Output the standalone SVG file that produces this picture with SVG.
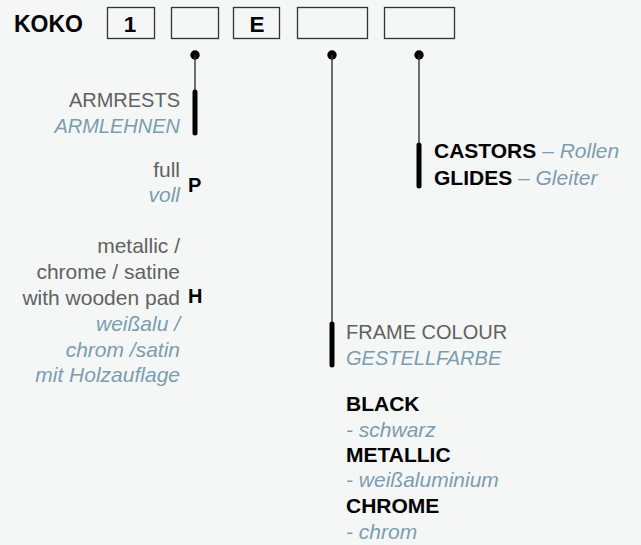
<svg xmlns="http://www.w3.org/2000/svg" width="641" height="545" viewBox="0 0 641 545">
<style>
.t{font-family:"Liberation Sans",Arial,sans-serif;font-size:21px}
.c{font-size:20px}
.g{fill:#616161}
.b{fill:#7b9db0;font-style:italic}
.k{fill:#000;font-weight:bold}
.m{font-size:20px}
.d{font-size:22.5px}
.box{fill:#f5f7f7;stroke:#333;stroke-width:1.3}
.thin{stroke:#333;stroke-width:1.4;fill:none}
.bar{stroke:#000;stroke-width:5;stroke-linecap:round;fill:none}
.dot{fill:#000}
</style>
<rect width="641" height="545" fill="#f5f7f7"/>
<g id="title"><text class="t k" x="14" y="32" style="font-size:23px">KOKO</text></g>
<g id="box1"><rect class="box" x="107.5" y="7.5" width="47" height="31"/><text class="t k d" x="130" y="32.3" text-anchor="middle">1</text></g>
<g id="box2"><rect class="box" x="171.5" y="7.5" width="47" height="31"/></g>
<g id="box3"><rect class="box" x="233.5" y="7.5" width="46" height="31"/><text class="t k d" x="257" y="32.3" text-anchor="middle">E</text></g>
<g id="box4"><rect class="box" x="297.5" y="7.5" width="70" height="31"/></g>
<g id="box5"><rect class="box" x="384.5" y="7.5" width="70" height="31"/></g>
<g id="connectors">
<circle class="dot" cx="195" cy="55" r="4.7"/>
<line class="thin" x1="195" y1="55" x2="195" y2="92"/>
<line class="bar" x1="195" y1="92" x2="195" y2="133"/>
<circle class="dot" cx="332" cy="55" r="4.7"/>
<line class="thin" x1="332" y1="55" x2="332" y2="324"/>
<line class="bar" x1="332" y1="324" x2="332" y2="365"/>
<circle class="dot" cx="419" cy="55" r="4.7"/>
<line class="thin" x1="419" y1="55" x2="419" y2="145"/>
<line class="bar" x1="419" y1="145" x2="419" y2="186"/>
</g>
<g id="armrests">
<text class="t c g" x="180" y="107" text-anchor="end">ARMRESTS</text>
<text class="t c b" x="180" y="133" text-anchor="end">ARMLEHNEN</text>
</g>
<g id="option-p">
<text class="t g" x="180" y="177" text-anchor="end">full</text>
<text class="t b" x="180" y="202" text-anchor="end">voll</text>
<text class="t k m" x="188" y="192.3">P</text>
</g>
<g id="option-h">
<text class="t g" x="180" y="253" text-anchor="end">metallic /</text>
<text class="t g" x="180" y="279" text-anchor="end">chrome / satine</text>
<text class="t g" x="180" y="305" text-anchor="end">with wooden pad</text>
<text class="t b" x="180" y="331" text-anchor="end">weißalu /</text>
<text class="t b" x="180" y="357" text-anchor="end">chrom /satin</text>
<text class="t b" x="180" y="382" text-anchor="end">mit Holzauflage</text>
<text class="t k m" x="188" y="302.7">H</text>
</g>
<g id="castors">
<text class="t" x="434" y="158"><tspan class="k">CASTORS</tspan><tspan class="b"> – Rollen</tspan></text>
<text class="t" x="434" y="185"><tspan class="k">GLIDES</tspan><tspan class="b"> – Gleiter</tspan></text>
</g>
<g id="frame">
<text class="t c g" x="346" y="339">FRAME COLOUR</text>
<text class="t c b" x="346" y="365">GESTELLFARBE</text>
<text class="t k" x="346" y="411">BLACK</text>
<text class="t b" x="346" y="437">- schwarz</text>
<text class="t k" x="346" y="462">METALLIC</text>
<text class="t b" x="346" y="487">- weißaluminium</text>
<text class="t k" x="346" y="513">CHROME</text>
<text class="t b" x="346" y="539">- chrom</text>
</g>
</svg>
